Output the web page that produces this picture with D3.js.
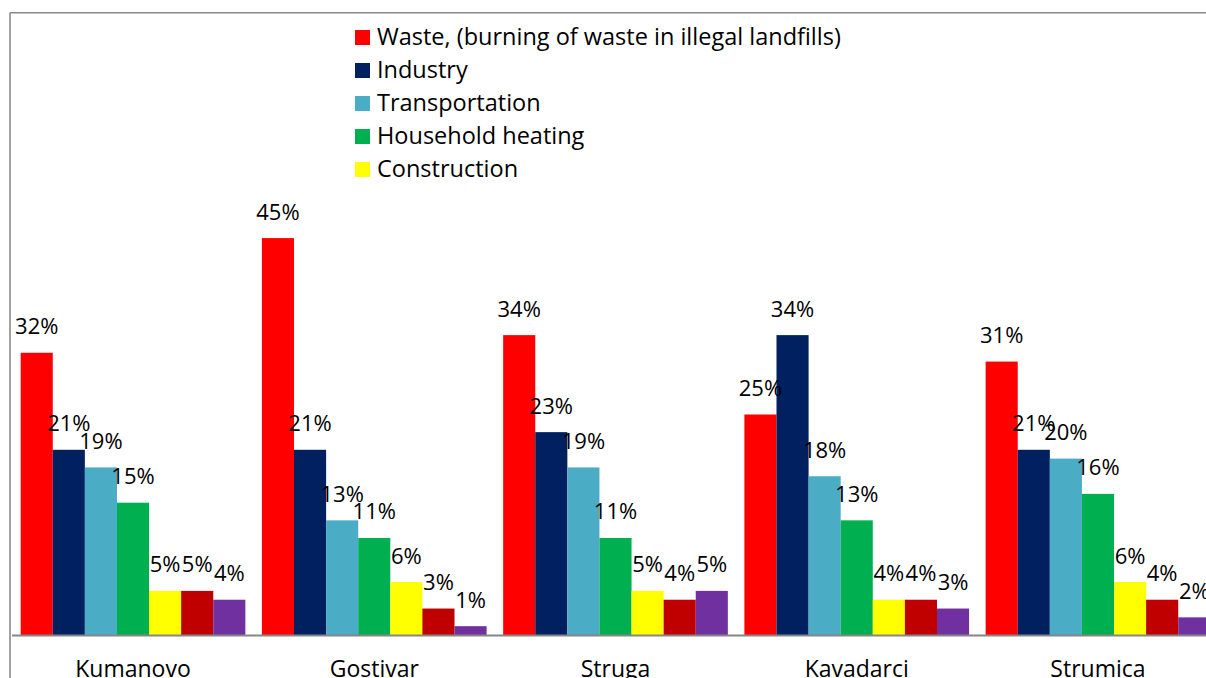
<!DOCTYPE html>
<html>
<head>
<meta charset="utf-8">
<script src="https://cdn.jsdelivr.net/npm/d3@7/dist/d3.min.js"></script>
<style>
  html, body { margin: 0; padding: 0; background: #fff; overflow: hidden; }
  svg { display: block; }
  text { font-family: "Open Sans", Lato, sans-serif; fill: #000; }
</style>
</head>
<body>
<svg id="chart" width="1206" height="678"></svg>
<script>
// Sources of air pollution by municipality (share of respondents, %)
const cities = ["Kumanovo", "Gostivar", "Struga", "Kavadarci", "Strumica"];
const seriesNames = [
  "Waste, (burning of waste in illegal landfills)",
  "Industry",
  "Transportation",
  "Household heating",
  "Construction",
  "Agriculture",
  "Other"
];
const seriesColors = ["#FF0000", "#002060", "#4BACC6", "#00B050", "#FFFF00", "#C00000", "#7030A0"];

const waste        = [32, 45, 34, 25, 31];
const industry     = [21, 21, 23, 34, 21];
const transport    = [19, 13, 19, 18, 20];
const heating      = [15, 11, 11, 13, 16];
const construction = [5, 6, 5, 4, 6];
const agriculture  = [5, 3, 4, 4, 4];
const other        = [4, 1, 5, 3, 2];

const seriesValues = [waste, industry, transport, heating, construction, agriculture, other];
const legendCount = 5; // entries visible in the legend box

const svg = d3.select("#chart");

const baseY = 635;
const x0 = d3.scaleBand()
  .domain(cities)
  .range([12.4, 1218.6])
  .paddingInner(0.0686)
  .paddingOuter(0.0343);

const x1 = d3.scaleBand()
  .domain(d3.range(seriesNames.length))
  .range([0, x0.bandwidth()])
  .padding(0);

const y = d3.scaleLinear().domain([0, 50]).range([baseY, baseY - 441]);

// chart frame (left and top edges)
svg.append("line").attr("x1", 10).attr("x2", 10).attr("y1", 12.8).attr("y2", 678)
  .attr("stroke", "#8a8a8a").attr("stroke-width", 1.6);
svg.append("line").attr("x1", 10).attr("x2", 1206).attr("y1", 12.8).attr("y2", 12.8)
  .attr("stroke", "#8a8a8a").attr("stroke-width", 1.6);

const groups = svg.append("g").selectAll("g")
  .data(cities)
  .join("g")
  .attr("transform", d => `translate(${x0(d)},0)`);

groups.selectAll("rect")
  .data((c, ci) => seriesValues.map((vals, si) => ({ si, v: vals[ci] })))
  .join("rect")
  .attr("x", d => x1(d.si))
  .attr("width", x1.bandwidth())
  .attr("y", d => y(d.v))
  .attr("height", d => baseY - y(d.v))
  .attr("fill", d => seriesColors[d.si]);

groups.selectAll("text.val")
  .data((c, ci) => seriesValues.map((vals, si) => ({ si, v: vals[ci] })))
  .join("text")
  .attr("class", "val")
  .attr("x", d => x1(d.si) + x1.bandwidth() / 2)
  .attr("y", d => y(d.v) - 18.5)
  .attr("text-anchor", "middle")
  .style("font-size", "22px")
  .text(d => d.v + "%");

// category axis
const xAxis = d3.axisBottom(x0).tickSize(0).tickPadding(0);
const axisG = svg.append("g").attr("transform", `translate(0,${baseY})`).call(xAxis);
axisG.select(".domain").attr("stroke", "#868686").attr("stroke-width", 2)
  .attr("d", `M12,0.5H1206`);
axisG.selectAll(".tick text")
  .attr("dy", 0)
  .attr("y", 42)
  .style("font-size", "23px")
  .style("font-family", "'Open Sans', Lato, sans-serif")
  .attr("fill", "#000");

// legend
const legend = svg.append("g").attr("transform", "translate(355,30)");
const items = legend.selectAll("g")
  .data(seriesNames.slice(0, legendCount))
  .join("g")
  .attr("transform", (d, i) => `translate(0,${i * 33})`);
items.append("rect").attr("width", 15).attr("height", 15)
  .attr("fill", (d, i) => seriesColors[i]);
items.append("text").attr("x", 22).attr("y", 15)
  .style("font-size", "23.5px")
  .text(d => d);
</script>
</body>
</html>
